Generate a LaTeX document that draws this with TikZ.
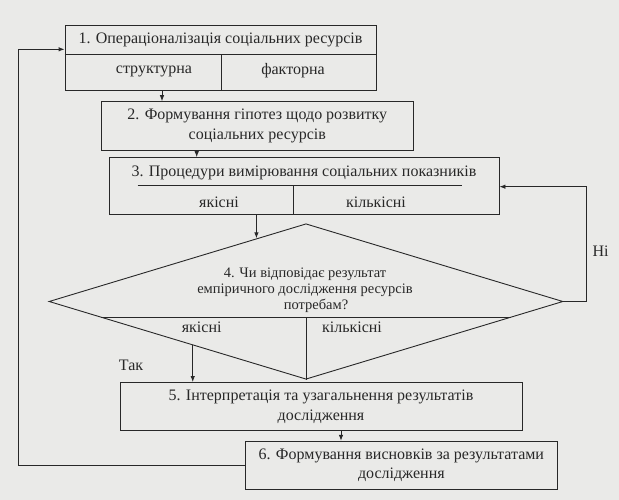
\documentclass[tikz,border=0pt]{standalone}
\usepackage{fontspec}
\setmainfont{Liberation Serif}
\usetikzlibrary{shapes.geometric,calc,arrows.meta}
\definecolor{bg}{RGB}{234,234,232}
\definecolor{ink}{RGB}{40,40,40}
\tikzset{
  box/.style={draw=ink, line width=0.9pt, inner sep=0pt, align=center, text=ink, font=\fontsize{16}{19.6}\selectfont},
  lbl/.style={inner sep=0pt, text=ink, font=\fontsize{16}{19.6}\selectfont},
  dlbl/.style={inner sep=0pt, text=ink, align=center, font=\fontsize{14.5}{16.2}\selectfont},
  ln/.style={draw=ink, line width=0.9pt},
  arr/.style={draw=ink, line width=0.9pt, -{Latex[length=6pt,width=4.5pt]}}
}
\begin{document}
\begin{tikzpicture}[x=1pt,y=-1pt]
\fill[bg] (0,0) rectangle (619,500);
\useasboundingbox (0,0) rectangle (619,500);
% boxes
\node[box, minimum width=311pt, minimum height=65pt] (b1) at (220.5,58) {};
\node[box, minimum width=311.3pt, minimum height=48.3pt] (b2) at (257.35,125.85) {2. Формування гіпотез щодо розвитку\\соціальних ресурсів};
\node[box, minimum width=390pt, minimum height=56.5pt] (b3) at (304,185.95) {};
\node[draw=ink, line width=0.9pt, diamond, inner sep=0pt, minimum width=514pt, minimum height=155.5pt] (d) at (306,301.5) {};
\node[box, minimum width=402pt, minimum height=48.2pt] (b5) at (321,406.6) {5. Інтерпретація та узагальнення результатів\\дослідження};
\node[box, minimum width=311.3pt, minimum height=48pt] (b6) at (401.35,465.3) {6. Формування висновків за результатами\\дослідження};
% box 1 compartments
\coordinate (h1) at ($(b1.north west)+(0,29)$);
\draw[ln] (h1) -- (h1 -| b1.east);
\coordinate (v1) at (221.5,54.5);
\draw[ln] (v1) -- (v1 |- b1.south);
\node[lbl] (t1) at (220.5,40) {1. Операціоналізація соціальних ресурсів};
\node[lbl] (t1a) at (154,71) {структурна};
\node[lbl] (t1b) at (293,71) {факторна};
% box 3 compartments
\coordinate (h3a) at (137.7,185.5);
\coordinate (h3b) at (461.7,185.5);
\draw[ln] (h3a) -- (h3b);
\coordinate (v3) at (293,185.5);
\draw[ln] (v3) -- (v3 |- b3.south);
\node[lbl] (t3) at (304,173) {3. Процедури вимірювання соціальних показників};
\node[lbl] (t3a) at (219,202) {якісні};
\node[lbl] (t3b) at (376,202) {кількісні};
% diamond inner
\coordinate (dl) at ($(d.west)!0.204!(d.south)$);
\coordinate (dr) at ($(d.east)!0.204!(d.south)$);
\draw[ln] (dl) -- (dr);
\draw[ln] (d.south |- dl) -- (d.south);
\node[dlbl] (t4) at (305,290.5) {4. Чи відповідає результат\\емпіричного дослідження ресурсів\\\hspace*{22pt}потребам?};
\node[lbl] (t4a) at (201.7,327) {якісні};
\node[lbl] (t4b) at (352,327) {кількісні};
% arrows
\coordinate (a12) at (162,0);
\draw[arr] (b1.south -| a12) -- (b2.north -| a12);
\coordinate (a23) at (196.7,0);
\draw[arr] (b2.south -| a23) -- (b3.north -| a23);
\coordinate (e34) at ($(d.north)!0.1926!(d.west)$);
\draw[arr] (b3.south -| e34) -- (e34);
\coordinate (e45) at ($(d.south)!0.44!(d.west)$);
\draw[arr] (e45) -- (e45 |- b5.north);
\node[lbl] (tak) at (131,365) {Так};
\coordinate (a56) at (341,0);
\draw[arr] (b5.south -| a56) -- (b6.north -| a56);
% loops
\coordinate (R) at (586,186.7);
\draw[arr] (d.east) -| (R) -- (R -| b3.east);
\node[lbl] (ni) at (600.5,251.7) {Ні};
\coordinate (L) at (18.3,49.3);
\draw[arr] (b6.west) -| (L) -- (L -| b1.west);
\end{tikzpicture}
\end{document}
